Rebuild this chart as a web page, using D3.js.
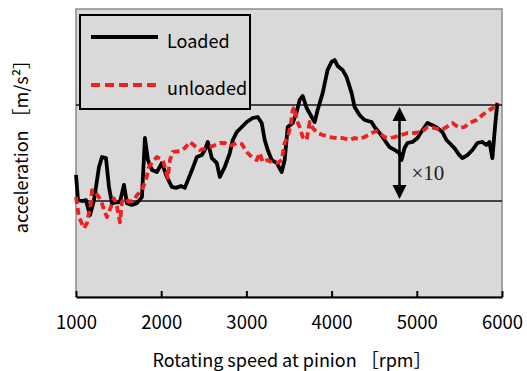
<!DOCTYPE html>
<meta charset="utf-8">
<head>
<script src="https://d3js.org/d3.v7.min.js"></script>
<style>
    body { margin: 0; background: #fff; }
    .tick text { font-family: "Noto Sans CJK JP", "Noto Sans", sans-serif; font-size: 18.5px; fill: #000; }
    .lbl { font-family: "Noto Sans CJK JP", "Noto Sans", sans-serif; font-size: 18px; fill: #000; }
</style>
</head>
<body>
<svg id="chart" width="527" height="371"></svg>

<script>
    // rpm and acceleration (log axis, arbitrary level)
    var xTicks = [1000, 2000, 3000, 4000, 5000, 6000];
    var refLevels = [1, 10];

    var rpmLoaded = [1000, 1023, 1070, 1117, 1164, 1211, 1270, 1305, 1352, 1387, 1422, 1516, 1563, 1598, 1656, 1715, 1774, 1809, 1844, 1891,
      1949, 2008, 2066, 2125, 2172, 2231, 2277, 2324, 2371, 2418, 2477, 2512, 2547, 2594, 2652, 2688, 2746, 2805, 2840, 2887,
      2946, 3004, 3039, 3074, 3133, 3180, 3215, 3250, 3297, 3356, 3414, 3449, 3485, 3543, 3590, 3625, 3661, 3707, 3766, 3801,
      3836, 3895, 3953, 4000, 4036, 4071, 4129, 4176, 4235, 4270, 4328, 4387, 4469, 4504, 4563, 4621, 4680, 4739, 4797, 4821,
      4856, 4891, 4950, 5008, 5067, 5125, 5184, 5242, 5301, 5348, 5383, 5442, 5500, 5536, 5594, 5653, 5711, 5770, 5817, 5852,
      5887, 5922, 5946];
    var accLoaded = [1.87, 1.02, 1.0, 1.02, 0.71, 1.02, 2.26, 2.87, 2.8, 1.4, 0.95, 0.98, 1.47, 0.95, 0.91, 0.95, 1.1, 4.53, 2.67, 2.1,
      2.0, 2.49, 1.78, 1.4, 1.37, 1.43, 1.37, 1.74, 2.21, 2.87, 3.01, 3.4, 4.12, 2.8, 2.49, 1.78, 2.26, 3.16, 4.32, 5.23,
      5.9, 6.65, 6.98, 7.32, 7.5, 6.49, 4.32, 3.4, 2.67, 2.49, 2.0, 2.67, 5.9, 6.49, 8.45, 11.3, 12.4, 9.3, 7.5, 6.65,
      8.87, 13.3, 23.2, 28.1, 29.4, 25.5, 23.2, 19.6, 13.3, 9.53, 7.87, 6.98, 6.65, 5.9, 5.11, 4.32, 3.65, 3.4, 3.16, 2.67,
      3.56, 4.02, 4.12, 4.53, 5.49, 6.49, 6.17, 5.76, 5.23, 4.32, 4.02, 3.56, 3.01, 2.8, 3.01, 3.4, 4.02, 4.12, 3.83, 4.12,
      2.8, 6.49, 10.5];

    var rpmUnloaded = [1000, 1035, 1094, 1129, 1176, 1188, 1234, 1293, 1328, 1363, 1410, 1445, 1481, 1516, 1539, 1586, 1621, 1680, 1715, 1774,
      1820, 1856, 1914, 1949, 2020, 2078, 2102, 2137, 2219, 2277, 2336, 2395, 2453, 2535, 2606, 2688, 2746, 2805, 2887, 2946,
      3004, 3063, 3121, 3156, 3192, 3250, 3309, 3367, 3414, 3449, 3485, 3520, 3543, 3567, 3590, 3625, 3661, 3707, 3743, 3778,
      3836, 3895, 3977, 4059, 4129, 4211, 4270, 4328, 4387, 4469, 4528, 4563, 4621, 4680, 4739, 4821, 4891, 4973, 5055, 5125,
      5207, 5290, 5348, 5419, 5500, 5559, 5618, 5700, 5770, 5852, 5911, 5946];
    var accUnloaded = [1.1, 0.68, 0.52, 0.59, 0.95, 1.3, 1.21, 1.02, 0.81, 0.68, 0.87, 1.07, 0.87, 0.6, 0.98, 1.07, 0.98, 1.02, 1.15, 1.3,
      1.65, 2.26, 2.67, 2.87, 2.67, 1.74, 2.67, 3.24, 3.32, 3.56, 4.12, 3.74, 3.4, 3.56, 3.74, 4.02, 4.02, 3.74, 4.02, 3.92,
      3.24, 2.87, 2.67, 3.16, 2.55, 2.67, 2.49, 2.49, 2.67, 4.02, 4.64, 6.17, 8.87, 9.53, 6.98, 5.9, 4.64, 4.32, 6.65, 5.76,
      5.11, 4.87, 4.64, 4.53, 4.53, 4.32, 4.53, 4.42, 4.64, 5.11, 5.36, 5.11, 4.64, 4.53, 4.64, 4.87, 5.11, 5.11, 5.23, 5.9,
      5.76, 5.49, 5.9, 6.49, 5.76, 5.9, 6.49, 6.98, 7.87, 8.87, 9.53, 10.5];

    var svg = d3.select("#chart");

    var x = d3.scaleLinear().domain([1000, 6000]).range([76, 502]);
    var y = d3.scaleLog().domain([0.1, 100]).range([297, 9]);

    // plot background
    svg.append("rect")
      .attr("x", x(1000)).attr("y", y(100))
      .attr("width", x(6000) - x(1000)).attr("height", y(0.1) - y(100))
      .attr("fill", "#d9d9d9")
      .attr("stroke", "#8c8c8c")
      .attr("stroke-width", 1.5);

    // reference lines (x1 and x10)
    svg.selectAll(".ref")
      .data(refLevels)
      .enter().append("line")
      .attr("class", "ref")
      .attr("x1", x(1000)).attr("x2", x(6000))
      .attr("y1", function(d) { return y(d); })
      .attr("y2", function(d) { return y(d); })
      .attr("stroke", "#111")
      .attr("stroke-width", 1.5);

    var line = d3.line()
      .x(function(d) { return x(d[0]); })
      .y(function(d) { return y(d[1]); });

    var loaded = d3.zip(rpmLoaded, accLoaded);
    var unloaded = d3.zip(rpmUnloaded, accUnloaded);

    svg.append("path")
      .datum(loaded)
      .attr("d", line)
      .attr("fill", "none")
      .attr("stroke", "#000")
      .attr("stroke-width", 3.8)
      .attr("stroke-linejoin", "round");

    svg.append("path")
      .datum(unloaded)
      .attr("d", line)
      .attr("fill", "none")
      .attr("stroke", "#f02020")
      .attr("stroke-width", 3.8)
      .attr("stroke-dasharray", "7,4")
      .attr("stroke-linejoin", "round");

    // x10 arrow
    var ax = x(4797);
    svg.append("line")
      .attr("x1", ax).attr("x2", ax)
      .attr("y1", y(10) + 8).attr("y2", y(1) - 8)
      .attr("stroke", "#000").attr("stroke-width", 2.5);
    svg.append("path")
      .attr("d", "M" + ax + "," + (y(10) + 2) + "l-7,14h14z")
      .attr("fill", "#000");
    svg.append("path")
      .attr("d", "M" + ax + "," + (y(1) - 2) + "l-7,-14h14z")
      .attr("fill", "#000");
    svg.append("text")
      .attr("x", ax + 12).attr("y", 180)
      .attr("font-family", "Liberation Serif, DejaVu Serif, serif")
      .attr("font-size", 21)
      .attr("fill", "#222")
      .text("×10");

    // x axis
    var xAxis = svg.append("g")
      .attr("transform", "translate(0," + y(0.1) + ")")
      .call(d3.axisBottom(x).tickValues(xTicks).tickSizeInner(-6).tickSizeOuter(0).tickPadding(19).tickFormat(d3.format("d")));
    xAxis.select(".domain").attr("stroke", "#000").attr("stroke-width", 2);
    xAxis.selectAll(".tick line").attr("stroke", "#000").attr("stroke-width", 2);

    svg.append("text")
      .attr("class", "lbl")
      .attr("x", 292).attr("y", 367)
      .attr("text-anchor", "middle")
      .text("Rotating speed at pinion ［rpm］");

    svg.append("text")
      .attr("class", "lbl")
      .attr("transform", "translate(28,142) rotate(-90)")
      .attr("text-anchor", "middle")
      .text("acceleration ［m/s²］");

    // legend
    var lg = svg.append("g");
    lg.append("rect")
      .attr("x", 80).attr("y", 15).attr("width", 170).attr("height", 94)
      .attr("fill", "#d9d9d9").attr("stroke", "#000").attr("stroke-width", 2);
    lg.append("line")
      .attr("x1", 91).attr("x2", 158).attr("y1", 37).attr("y2", 37)
      .attr("stroke", "#000").attr("stroke-width", 4);
    lg.append("line")
      .attr("x1", 91).attr("x2", 158).attr("y1", 85).attr("y2", 85)
      .attr("stroke", "#f02020").attr("stroke-width", 4).attr("stroke-dasharray", "9,5");
    lg.append("text").attr("class", "lbl").attr("x", 167).attr("y", 48).text("Loaded");
    lg.append("text").attr("class", "lbl").attr("x", 167).attr("y", 95).text("unloaded");
</script>
</body>
